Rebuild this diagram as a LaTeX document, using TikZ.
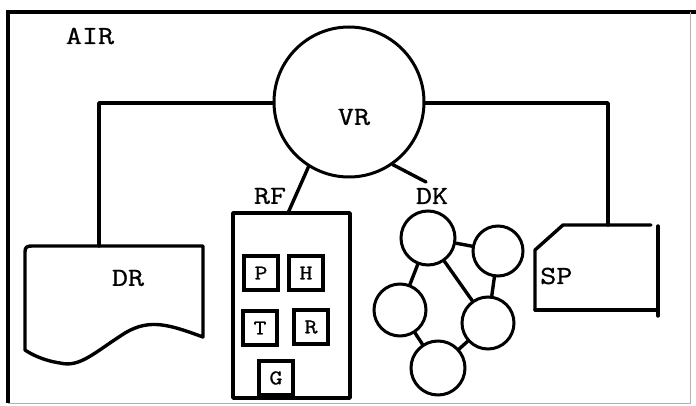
\documentclass[tikz,border=0pt]{standalone}
\usepackage{fontspec}
\newfontfamily\tw[FakeBold=0.9,FakeStretch=1.2]{Latin Modern Mono}
\begin{document}
\begin{tikzpicture}[x=1pt,y=-1pt,
  thick line/.style={line width=3.4pt, line cap=round, line join=round},
  lbl/.style={font=\tw\fontsize{26}{28}\selectfont, inner sep=0pt},
  disk/.style={circle, draw, line width=3pt, minimum size=#1, inner sep=0pt},
  regbox/.style={draw, line width=3.4pt, minimum size=34pt, inner sep=0pt, font=\tw\fontsize{21}{23}\selectfont}]
\useasboundingbox (0,0) rectangle (696,406);
% frame
\draw[line width=3.4pt] (8,403) -- (8,12) -- (696,12);
\draw[line width=0.8pt, black!30] (690,12) -- (690,403) -- (8,403);
\node[lbl] (air) at (90,36) {AIR};
% VR
\node[disk=150pt] (vr) at (349,102) {};
\node[lbl] (vrl) at (354,117) {VR};
% DR document
\draw[thick line] (25,252) .. controls (25,247) and (27,246) .. (32,246) -- (203,246) -- (203,337)
  .. controls (170,325) and (150,318) .. (125,333)
  .. controls (95,352) and (80,368) .. (60,363)
  .. controls (40,360) and (28,352) .. (25,350) -- cycle;
\coordinate (drtop) at (99,246);
\node[lbl] (drl) at (128,278) {DR};
% RF box
\draw[thick line] (233,213) rectangle (350,398);
\coordinate (rftop) at (288,213);
\node[lbl] (rfl) at (270,196) {RF};
\node[regbox] (p) at (261,273) {P};
\node[regbox] (h) at (306,273) {H};
\node[regbox] (t) at (260,328) {T};
\node[regbox] (r) at (311,327) {R};
\node[regbox] (g) at (276,378) {G};
% DK graph
\node[lbl] (dkl) at (432,196) {DK};
\node[disk=54pt] (c1) at (428,238) {};
\node[disk=50pt] (c2) at (498,251) {};
\node[disk=52pt] (c3) at (400,310) {};
\node[disk=52pt] (c4) at (488,323) {};
\node[disk=54pt] (c5) at (438,368) {};
\draw[thick line] (c1) -- (c2);
\draw[thick line] (c1) -- (c4);
\draw[thick line] (c1) -- (c3);
\draw[thick line] (c2) -- (c4);
\draw[thick line] (c3) -- (c5);
\draw[thick line] (c4) -- (c5);
% SP
\draw[thick line] (535,310) -- (535,250) -- (563,225) -- (651,225);
\draw[thick line] (658,226) -- (658,316);
\draw[thick line] (535,310) -- (656,310);
\coordinate (sptop) at (608,225);
\node[lbl, anchor=west] (spl) at (540,276) {SP};
% connectors
\coordinate (lc) at (99,103);
\coordinate (rc) at (608,103);
\draw[thick line] (vr.west |- lc) -- (lc) -- (drtop);
\draw[thick line] (vr.east |- rc) -- (rc) -- (sptop);
\draw[thick line] (vr.-122) -- (rftop);
\coordinate (dkend) at (426,182);
\draw[thick line] (vr.-55) -- (dkend);
\end{tikzpicture}
\end{document}
